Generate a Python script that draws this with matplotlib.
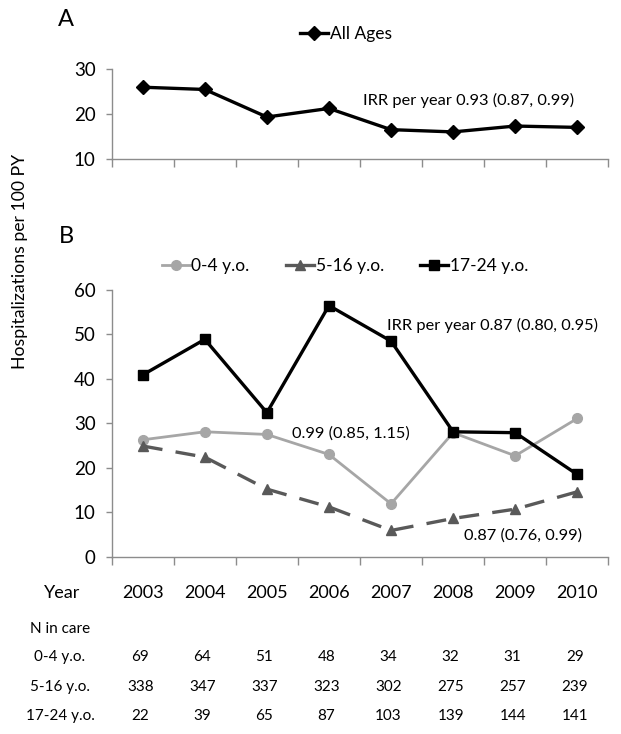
import numpy as np
import matplotlib as mpl
import matplotlib.pyplot as plt
import matplotlib.transforms as mtransforms

plt.rcParams['font.family'] = ['Lato', 'DejaVu Sans']

years = ['2003', '2004', '2005', '2006', '2007', '2008', '2009', '2010']
all_ages = [25.9, 25.4, 19.3, 21.2, 16.5, 16.0, 17.3, 17.0]
age_0_4 = [26.3, 28.1, 27.5, 23.0, 11.9, 27.9, 22.7, 31.1]
age_5_16 = [24.9, 22.4, 15.2, 11.2, 5.9, 8.6, 10.7, 14.6]
age_17_24 = [40.9, 48.9, 32.4, 56.5, 48.5, 28.1, 27.9, 18.5]

row_labels = ['0-4 y.o.', '5-16 y.o.', '17-24 y.o.']
n_0_4 = [69, 64, 51, 48, 34, 32, 31, 29]
n_5_16 = [338, 347, 337, 323, 302, 275, 257, 239]
n_17_24 = [22, 39, 65, 87, 103, 139, 144, 141]

W, H = 621, 734
fig = plt.figure(figsize=(W / 100, H / 100), dpi=100)

def fy(py):
    return 1 - py / H

left = 111.7 / W
width = (608.3 - 111.7) / W
ax1 = fig.add_axes([left, fy(159), width, fy(68.7) - fy(159)])
ax2 = fig.add_axes([left, fy(556.7), width, fy(290) - fy(556.7)])

x = np.arange(len(years))
spine_col = '#8c8c8c'

for ax in (ax1, ax2):
    for s in ('top', 'right'):
        ax.spines[s].set_visible(False)
    for s in ('left', 'bottom'):
        ax.spines[s].set_color(spine_col)
        ax.spines[s].set_linewidth(1.0)
    ax.set_xlim(-0.5, len(years) - 0.5)
    ax.set_xticks(np.arange(-0.5, len(years), 1.0))
    ax.set_xticklabels([])
    ax.tick_params(axis='x', direction='out', length=5.5, color=spine_col, width=1)
    ax.tick_params(axis='y', direction='out', length=4.5, color=spine_col, width=1,
                   labelsize=13.5, pad=7)

# panel A
ax1.plot(x, all_ages, color='black', lw=2.4, marker='D', ms=7.5, label='All Ages')
ax1.set_ylim(10, 30)
ax1.set_yticks([10, 20, 30])
ax1.text(3.55, 21.4, 'IRR per year 0.93 (0.87, 0.99)', fontsize=11.8, va='bottom')
ax1.legend(loc='center', bbox_to_anchor=(346 / W, fy(34)), bbox_transform=fig.transFigure,
           frameon=False, fontsize=12.5, handlelength=1.6, handletextpad=0.1)

# panel B
ax2.plot(x, age_0_4, color='#a6a6a6', lw=2, marker='o', ms=7, label='0-4 y.o.')
ax2.plot(x, age_5_16, color='#595959', lw=2.4, marker='^', ms=7.5, dashes=(6, 4),
         label='5-16 y.o.')
ax2.plot(x, age_17_24, color='black', lw=2.4, marker='s', ms=7, label='17-24 y.o.')
ax2.set_ylim(0, 60)
ax2.set_yticks(range(0, 61, 10))
ax2.text(3.93, 52.0, 'IRR per year 0.87 (0.80, 0.95)', fontsize=11.8, va='center')
ax2.text(2.4, 27.6, '0.99 (0.85, 1.15)', fontsize=11.8, va='center')
ax2.text(5.17, 4.8, '0.87 (0.76, 0.99)', fontsize=11.8, va='center')
h, l = ax2.get_legend_handles_labels()
leg = ax2.legend(h, l, loc='center', bbox_to_anchor=(345 / W, fy(266)),
                 bbox_transform=fig.transFigure, ncol=3, frameon=False, fontsize=12.5,
                 handlelength=1.6, handletextpad=0.1, columnspacing=2.1)
for line in leg.get_lines():
    line.set_linestyle('-')

fig.text(66 / W, fy(20), 'A', fontsize=17, ha='center', va='center')
fig.text(66 / W, fy(237), 'B', fontsize=17, ha='center', va='center')
fig.text(20 / W, fy(261), 'Hospitalizations per 100 PY', rotation=90,
         fontsize=12.7, ha='center', va='center')

# year labels and table
tr = mtransforms.blended_transform_factory(ax2.transData, fig.transFigure)
fig.text(62 / W, fy(593), 'Year', fontsize=13, ha='center', va='center')
for i, yr in enumerate(years):
    ax2.text(i, fy(593), yr, transform=tr, fontsize=13, ha='center', va='center')

fig.text(60 / W, fy(629), 'N in care', fontsize=11, ha='center', va='center')
rows = [n_0_4, n_5_16, n_17_24]
row_y = [657, 687, 716]
for lab, vals, py in zip(row_labels, rows, row_y):
    fig.text(60 / W, fy(py), lab, fontsize=11, ha='center', va='center')
    for i, v in enumerate(vals):
        ax2.text(i - 0.04, fy(py), str(v), transform=tr, fontsize=11, ha='center', va='center')

fig.savefig('out.png', dpi=100)
